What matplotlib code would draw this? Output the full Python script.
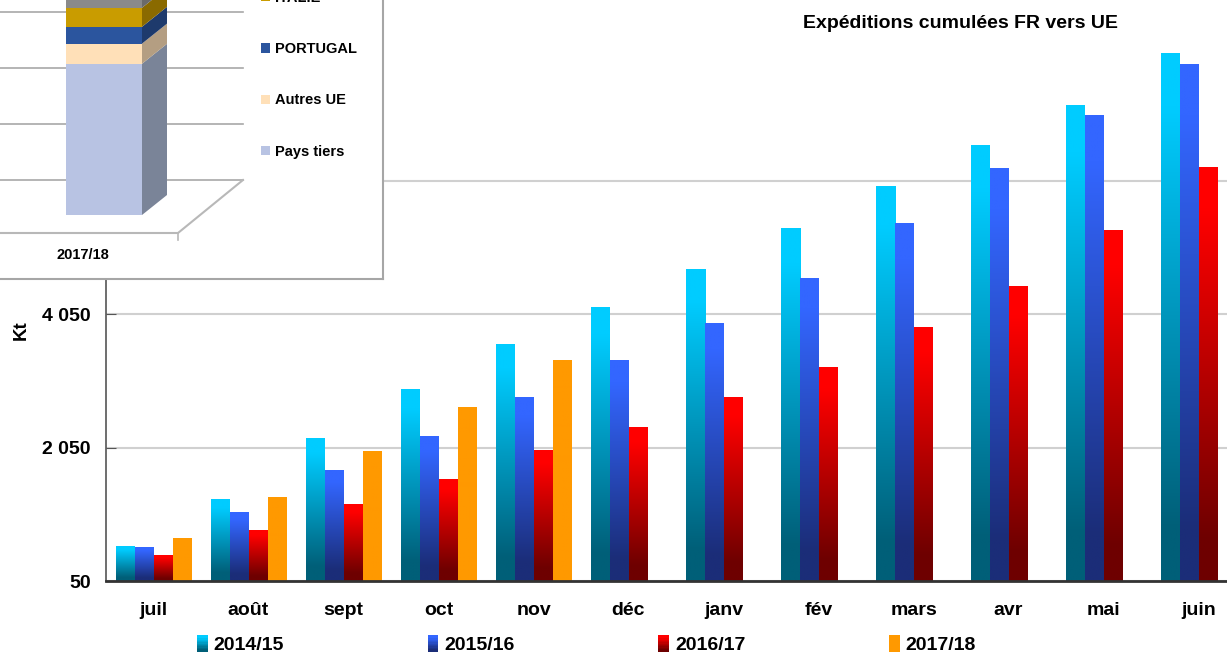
import numpy as np
import matplotlib
matplotlib.use('Agg')
import matplotlib.pyplot as plt
from matplotlib.patches import Patch, Rectangle, Polygon
from matplotlib.legend_handler import HandlerBase
from matplotlib.colors import to_rgb

months = ['juil', 'août', 'sept', 'oct', 'nov', 'déc', 'janv', 'fév', 'mars', 'avr', 'mai', 'juin']
seasons = ['2014/15', '2015/16', '2016/17', '2017/18']

# cumulated shipments (Kt)
s1415 = [574, 1278, 2192, 2926, 3586, 4140, 4724, 5338, 5967, 6581, 7181, 7960]
s1516 = [559, 1069, 1698, 2222, 2792, 3346, 3915, 4589, 5413, 6237, 7031, 7795]
s1617 = [425, 814, 1189, 1578, 1998, 2357, 2806, 3256, 3855, 4469, 5308, 6252]
s1718 = [694, 1308, 1983, 2642, 3346, np.nan, np.nan, np.nan, np.nan, np.nan, np.nan, np.nan]
series = [s1415, s1516, s1617, s1718]

yticks = [50, 2050, 4050, 6050]

top_cols = ['#00CCFF', '#3366FF', '#FF0000', '#FF9900']
bot_cols = ['#005F78', '#1B2D78', '#6E0000', '#FF9900']

# pasted inset (2017/18 by destination), cut off at the top
dest = ['Pays tiers', 'Autres UE', 'PORTUGAL', 'ITALIE', '']
dest_vals = [2.7, 0.36, 0.30, 0.34, 0.5]
dest_cols = ['#B8C3E3', '#FFE0B8', '#2B559E', '#C99C00', '#8A8A8A']
dest_side = ['#7A8498', '#B49E82', '#1E3A6C', '#8A6A00', '#6A6A6A']


def grad_colors(top, bot, n):
    s = np.linspace(0, 1, n)
    f = np.clip((s - 0.1) / 0.8, 0, 1)
    c0 = np.array(to_rgb(top))
    c1 = np.array(to_rgb(bot))
    return c0[None, :] * (1 - f[:, None]) + c1[None, :] * f[:, None]


class GradHandler(HandlerBase):
    def __init__(self, top, bot):
        super().__init__()
        self.cols = grad_colors(top, bot, 12)

    def create_artists(self, legend, orig_handle, xdescent, ydescent,
                       width, height, fontsize, trans):
        n = len(self.cols)
        arts = []
        for i, c in enumerate(self.cols):
            y0 = -ydescent + height * (n - 1 - i) / n
            arts.append(Rectangle((-xdescent, y0), width, height / n * 1.1,
                                  facecolor=c, edgecolor='none', lw=0, transform=trans))
        return arts


fig = plt.figure(figsize=(12.27, 6.55), dpi=100)
ax = fig.add_axes([106 / 1227, 74 / 655, 1 - 106 / 1227, 541 / 655])

x = np.arange(len(months))
w = 0.2
ymin, ymax = 50, 8155
for i, vals in enumerate(series):
    bars = ax.bar(x + (i - 1.5) * w, vals, w, color=top_cols[i], zorder=2)
    img = grad_colors(top_cols[i], bot_cols[i], 256)[:, None, :]
    for r in bars:
        h = r.get_height()
        if np.isnan(h):
            continue
        ax.imshow(img, extent=(r.get_x(), r.get_x() + r.get_width(), ymin, h),
                  aspect='auto', zorder=2.5, interpolation='bilinear')

ax.set_xlim(-0.5, 11.3)
ax.set_ylim(ymin, ymax)
ax.set_yticks(yticks)
ax.set_yticklabels([f'{v:,}'.replace(',', ' ') for v in yticks])
ax.set_xticks(x)
ax.set_xticklabels(months)
ax.set_axisbelow(True)
ax.yaxis.grid(True, color='#D0D0D0', lw=1.5)
for s in ['top', 'right']:
    ax.spines[s].set_visible(False)
ax.spines['bottom'].set_color('#333333')
ax.spines['bottom'].set_linewidth(2)
ax.spines['left'].set_color('#555555')
ax.spines['left'].set_linewidth(1.2)
ax.tick_params(axis='y', direction='in', length=7, color='#555555', pad=11,
               labelsize=14)
ax.tick_params(axis='x', length=0, pad=15, labelsize=14)
for lab in ax.get_xticklabels() + ax.get_yticklabels():
    lab.set_fontfamily('Liberation Sans')
    lab.set_fontweight('bold')

fig.text(21 / 1227, 1 - 330 / 655, 'Kt', rotation=90, ha='center', va='center',
         fontsize=13.5, fontweight='bold', family='Liberation Sans')
fig.text(960 / 1227, 1 - 23 / 655, 'Expéditions cumulées FR vers UE', ha='center',
         va='center', fontsize=14, fontweight='bold', family='Liberation Sans')

handles = [Patch(facecolor=c) for c in top_cols]
hmap = {h: GradHandler(top_cols[i], bot_cols[i]) for i, h in enumerate(handles)}
fig.legend(handles, seasons, handler_map=hmap, loc='center', ncol=4,
           bbox_to_anchor=(0.478, 1 - 645 / 655), frameon=False,
           prop={'family': 'Liberation Sans', 'weight': 'bold', 'size': 14},
           handlelength=0.55, handleheight=0.9, handletextpad=0.3, columnspacing=7.4,
           borderpad=0, borderaxespad=0)

# inset: 3D stacked bar pasted over the top-left corner
axi = fig.add_axes([0, 1 - 279 / 655, 383 / 1227, 279 / 655])
axi.set_facecolor('white')
axi.set_xlim(0, 383)
unit = 56.0
axi.set_ylim(-64 / unit, (279 - 64) / unit)
axi.set_xticks([])
axi.set_yticks([])
for s in ['top', 'left']:
    axi.spines[s].set_visible(False)
for s in ['right', 'bottom']:
    axi.spines[s].set_color('#A6A6A6')
    axi.spines[s].set_linewidth(1.5)

back0 = 35 / unit
for k in range(4):
    axi.plot([0, 243], [back0 + k, back0 + k], color='#A8A8A8', lw=1.2, zorder=1)
front = -18 / unit
axi.plot([0, 178, 243], [front, front, back0], color='#B8B8B8', lw=1.5, zorder=1)
axi.plot([178, 178], [front, front - 7 / unit], color='#B8B8B8', lw=1.2, zorder=1)

dx, dy = 25, 20 / unit
bottoms = np.concatenate([[0], np.cumsum(dest_vals)[:-1]])
stack = axi.bar(104, dest_vals, 76, bottom=bottoms, color=dest_cols, zorder=3)
for r, sc in zip(stack, dest_side):
    x1 = r.get_x() + r.get_width()
    b, t = r.get_y(), r.get_y() + r.get_height()
    axi.add_patch(Polygon([(x1, b), (x1 + dx, b + dy), (x1 + dx, t + dy), (x1, t)],
                          closed=True, facecolor=sc, edgecolor='none', zorder=3))
axi.text(83, -40 / unit, '2017/18', ha='center', va='center', fontsize=10.5,
         fontweight='bold', family='Liberation Sans')

ih = [Patch(facecolor=c) for c in dest_cols[:4]][::-1]
axi.legend(ih, dest[:4][::-1], loc='upper left', bbox_to_anchor=(261 / 383, 1 + 9 / 279),
           frameon=False, prop={'family': 'Liberation Sans', 'weight': 'bold', 'size': 10.5},
           handlelength=0.6, handleheight=0.6, handletextpad=0.35, labelspacing=2.55,
           borderpad=0, borderaxespad=0)

fig.savefig('out.png', dpi=100)
